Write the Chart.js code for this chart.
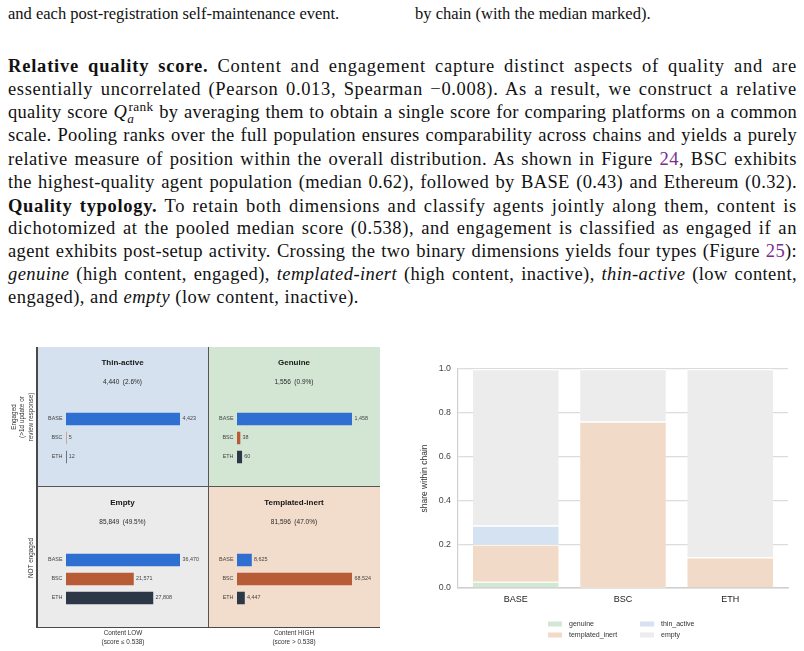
<!DOCTYPE html>
<html>
<head>
<meta charset="utf-8">
<script src="https://cdn.jsdelivr.net/npm/chart.js@4.4.0/dist/chart.umd.min.js"></script>
<style>
  html, body { margin: 0; padding: 0; background: #fff; }
  #page { position: relative; width: 804px; height: 651px; overflow: hidden; }
  .txt { position: absolute; left: 8px; width: 789px; font-family: "Liberation Serif", serif;
         font-size: 18.5px; line-height: 22px; color: #111; white-space: nowrap; }
  .cap { position: absolute; font-family: "Liberation Serif", serif; font-size: 16.5px;
         line-height: 20px; color: #111; white-space: nowrap; }
  .ref { color: #7b2c8f; }
  .q { font-style: italic; }
  .q sub { font-size: 0.72em; vertical-align: -0.35em; line-height: 0; }
  .q sup { font-style: normal; font-size: 0.72em; vertical-align: 0.55em; line-height: 0; margin-left: -0.42em; }
  canvas { position: absolute; }
  .lab { position: absolute; font-family: "Liberation Sans", Arial, sans-serif; font-size: 6.4px;
         color: #333; text-align: center; white-space: nowrap; }
  .rot { transform: translate(-50%, -50%) rotate(-90deg); line-height: 8.4px; }
  .bot { transform: translateX(-50%); line-height: 9px; }
  .ln { position: absolute; background: #4a4a4a; }
</style>
</head>
<body>
<div id="page">
  <div class="cap" style="left:8px; top:4px;">and each post-registration self-maintenance event.</div>
  <div class="cap" style="left:415px; top:4px;">by chain (with the median marked).</div>

  <div class="txt j" style="top:55px;"><span><b>Relative quality score.</b> Content and engagement capture distinct aspects of quality and are</span></div>
  <div class="txt j" style="top:78px;"><span>essentially uncorrelated (Pearson 0.013, Spearman −0.008). As a result, we construct a relative</span></div>
  <div class="txt j" style="top:101px;"><span>quality score <span class="q">Q<sub>a</sub><sup>rank</sup></span> by averaging them to obtain a single score for comparing platforms on a common</span></div>
  <div class="txt j" style="top:124px;"><span>scale. Pooling ranks over the full population ensures comparability across chains and yields a purely</span></div>
  <div class="txt j" style="top:148px;"><span>relative measure of position within the overall distribution. As shown in Figure <span class="ref">24</span>, BSC exhibits</span></div>
  <div class="txt j" style="top:171px;"><span>the highest-quality agent population (median 0.62), followed by BASE (0.43) and Ethereum (0.32).</span></div>
  <div class="txt j" style="top:195px;"><span><b>Quality typology.</b> To retain both dimensions and classify agents jointly along them, content is</span></div>
  <div class="txt j" style="top:217px;"><span>dichotomized at the pooled median score (0.538), and engagement is classified as engaged if an</span></div>
  <div class="txt j" style="top:240px;"><span>agent exhibits post-setup activity. Crossing the two binary dimensions yields four types (Figure <span class="ref">25</span>):</span></div>
  <div class="txt j" style="top:263px;"><span><i>genuine</i> (high content, engaged), <i>templated-inert</i> (high content, inactive), <i>thin-active</i> (low content,</span></div>
  <div class="txt" id="last" style="top:286px;"><span>engaged), and <i>empty</i> (low content, inactive).</span></div>

  <canvas id="pThin" width="171" height="139" style="left:37px; top:347px;"></canvas>
  <canvas id="pGen" width="172" height="139" style="left:208px; top:347px;"></canvas>
  <canvas id="pEmpty" width="171" height="141" style="left:37px; top:486px;"></canvas>
  <canvas id="pTempl" width="172" height="141" style="left:208px; top:486px;"></canvas>
  <div class="ln" style="left:36px; top:347px; width:1.5px; height:281px;"></div>
  <div class="ln" style="left:36px; top:626.5px; width:344px; height:1.5px;"></div>
  <div class="ln" style="left:207.5px; top:347px; width:1.2px; height:280px; background:#555;"></div>
  <div class="ln" style="left:37px; top:485.5px; width:343px; height:1.2px; background:#555;"></div>

  <div class="lab rot" style="left:23px; top:417px;">Engaged<br>(&gt;1d update or<br>review response)</div>
  <div class="lab rot" style="left:31px; top:558px;">NOT engaged</div>
  <div class="lab bot" style="left:123px; top:628px;">Content LOW<br>(score ≤ 0.538)</div>
  <div class="lab bot" style="left:294px; top:628px;">Content HIGH<br>(score &gt; 0.538)</div>

  <canvas id="share" width="394" height="301" style="left:410px; top:350px;"></canvas>
</div>

<script>
// chains and per-quadrant agent counts
const chains = ['BASE', 'BSC', 'ETH'];
const thinActive = [4423, 5, 12];
const genuine = [1458, 38, 60];
const empty = [36470, 21571, 27808];
const templatedInert = [8625, 68524, 4447];
const panelTotals = ['4,440  (2.6%)', '1,556  (0.9%)', '85,849  (49.5%)', '81,596  (47.0%)'];

// share of each type within chain (right chart)
const typeLabels = ['genuine', 'templated_inert', 'thin_active', 'empty'];
const shareGenuine = [0.029, 0.0004, 0.002];
const shareTemplated = [0.169, 0.760, 0.138];
const shareThin = [0.087, 0.0001, 0.0004];
const shareEmpty = [0.715, 0.2395, 0.8596];
const shareTicks = [0, 0.2, 0.4, 0.6, 0.8, 1.0];

const chainColors = ['#2e6fd1', '#b85c38', '#2c3848'];
const typeColors = ['#d3e8d4', '#f2dac8', '#d5e2f2', '#ececec'];

Chart.defaults.font.family = '"Liberation Sans", Arial, sans-serif';

// draws panel background, title, counts and bar labels
const panelPlugin = {
  id: 'panel',
  beforeDraw(chart, args, opts) {
    const c = chart.ctx;
    c.save();
    c.fillStyle = opts.bg;
    c.fillRect(0, 0, chart.width, chart.height);
    c.restore();
  },
  afterDraw(chart, args, opts) {
    const c = chart.ctx;
    const xs = chart.scales.x, ys = chart.scales.y;
    const cx = chart.width / 2;
    c.save();
    c.textAlign = 'center';
    c.textBaseline = 'middle';
    c.fillStyle = '#161616';
    c.font = 'bold 8px "Liberation Sans", Arial, sans-serif';
    c.fillText(opts.title, cx, opts.titleY);
    c.fillStyle = '#2a2a2a';
    c.font = '6.5px "Liberation Sans", Arial, sans-serif';
    c.fillText(opts.total, cx, opts.titleY + 19);
    c.font = '5.4px "Liberation Sans", Arial, sans-serif';
    c.fillStyle = '#444';
    const vals = chart.data.datasets[0].data;
    chart.data.labels.forEach((lab, i) => {
      const y = ys.getPixelForValue(i);
      c.textAlign = 'right';
      c.fillText(lab, xs.getPixelForValue(0) - 3.5, y);
      c.textAlign = 'left';
      c.fillText(vals[i].toLocaleString('en-US'), xs.getPixelForValue(vals[i]) + 2.5, y);
    });
    c.restore();
  }
};

function makePanel(id, values, title, total, bg, upper) {
  const h = upper ? 139 : 141;
  const top = upper ? 62.5 : 64.5;
  return new Chart(document.getElementById(id), {
    type: 'bar',
    data: {
      labels: chains,
      datasets: [{ data: values, backgroundColor: chainColors, barThickness: 12 }]
    },
    options: {
      indexAxis: 'y',
      responsive: false,
      animation: false,
      events: [],
      layout: { padding: { left: 29, right: 28, top: top, bottom: h - top - 57 } },
      scales: {
        x: { display: false, min: 0, max: Math.max(...values) },
        y: { display: false }
      },
      plugins: {
        legend: { display: false },
        tooltip: { enabled: false },
        panel: { bg: bg, title: title, total: total, titleY: upper ? 16 : 17 }
      }
    },
    plugins: [panelPlugin]
  });
}

makePanel('pThin', thinActive, 'Thin-active', panelTotals[0], '#d6e1ef', true);
makePanel('pGen', genuine, 'Genuine', panelTotals[1], '#d2e6d3', true);
makePanel('pEmpty', empty, 'Empty', panelTotals[2], '#ebebeb', false);
makePanel('pTempl', templatedInert, 'Templated-inert', panelTotals[3], '#f2dccb', false);

// legend in two columns under the stacked chart
const shareLegend = {
  id: 'shareLegend',
  afterDraw(chart) {
    const c = chart.ctx;
    const spots = { genuine: [138, 274], thin_active: [230, 274], templated_inert: [138, 285], empty: [230, 285] };
    c.save();
    c.font = '7px "Liberation Sans", Arial, sans-serif';
    c.textBaseline = 'middle';
    chart.data.datasets.forEach(ds => {
      const p = spots[ds.label];
      c.fillStyle = ds.backgroundColor;
      c.fillRect(p[0], p[1] - 2.5, 14, 5);
      c.fillStyle = '#333';
      c.fillText(ds.label, p[0] + 21, p[1]);
    });
    c.restore();
  }
};

// bars sit at 0,1,2 on a linear axis so the plot keeps side margins
const shareSeries = [shareGenuine, shareTemplated, shareThin, shareEmpty];
new Chart(document.getElementById('share'), {
  type: 'bar',
  data: {
    datasets: typeLabels.map((t, i) => ({
      label: t,
      data: shareSeries[i].map((v, k) => ({ x: k, y: v })),
      backgroundColor: typeColors[i],
      borderColor: '#ffffff',
      borderWidth: { top: 1.2, right: 0, bottom: 0, left: 0 },
      borderSkipped: false,
      barPercentage: 0.8,
      categoryPercentage: 1
    }))
  },
  options: {
    responsive: false,
    animation: false,
    events: [],
    layout: { padding: { left: 0, right: 16, top: 19, bottom: 0 } },
    scales: {
      x: {
        type: 'linear',
        stacked: true,
        offset: false,
        min: -0.54,
        max: 2.54,
        afterBuildTicks(s) { s.ticks = chains.map((c, k) => ({ value: k })); },
        grid: { display: false, drawTicks: false, offset: false },
        border: { color: '#cfcfcf', width: 1.6 },
        ticks: { color: '#222', font: { size: 9 }, padding: 6, callback: v => chains[v] },
        afterFit(s) { s.height = 63; }
      },
      y: {
        stacked: true,
        min: 0,
        max: 1,
        afterBuildTicks(s) { s.ticks = shareTicks.map(v => ({ value: v })); },
        ticks: { color: '#444', font: { size: 8.8 }, padding: 7, callback: v => v.toFixed(1) },
        grid: { color: '#dcdcdc', lineWidth: 1.2, drawTicks: false },
        border: { color: '#cfcfcf', width: 1.2 },
        title: { display: true, text: 'share within chain', color: '#333', font: { size: 8.5 }, padding: { top: 10, bottom: 0 } },
        afterFit(s) { s.width = 48; }
      }
    },
    plugins: { legend: { display: false }, tooltip: { enabled: false } }
  },
  plugins: [shareLegend]
});

// stretch each paragraph line to the full text width, part letters, part words
function justifyLines() {
  let ls = 0;
  document.querySelectorAll('.j').forEach(el => {
    const span = el.firstElementChild;
    const w = span.getBoundingClientRect().width;
    const n = span.textContent.length;
    const gaps = (span.textContent.match(/ /g) || []).length;
    const extra = 789 - w;
    const l = Math.max(0, Math.min(0.8, extra * 0.7 / n));
    ls += l;
    span.style.letterSpacing = l + 'px';
    const w2 = span.getBoundingClientRect().width;
    if (gaps) span.style.wordSpacing = ((789 - w2) / gaps) + 'px';
  });
  document.querySelector('#last span').style.letterSpacing = (ls / 10) + 'px';
}
justifyLines();
</script>
</body>
</html>
